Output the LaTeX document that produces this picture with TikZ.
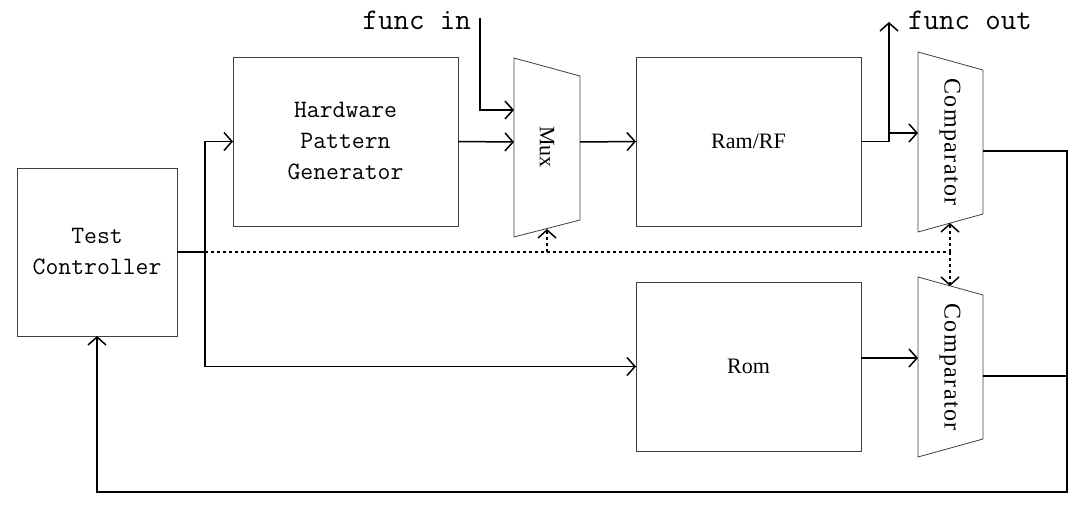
\documentclass[tikz,border=0pt]{standalone}
\usepackage{fontspec}
\newfontfamily\serifp{Liberation Serif}
\usetikzlibrary{arrows.meta}
\begin{document}
\begin{tikzpicture}[x=1pt,y=-1pt,
  box/.style={draw=black!75, line width=0.8pt, minimum width=225pt, minimum height=169pt, inner sep=0pt, outer sep=0pt},
  shp/.style={draw=black!75, line width=0.8pt},
  conn/.style={line width=1.5pt},
  arr/.style={conn, -{Straight Barb[length=8pt,width=18pt]}},
  dotl/.style={conn, dash pattern=on 3pt off 3pt},
  darr/.style={dotl, -{Straight Barb[length=8pt,width=18pt]}},
  mono/.style={font=\ttfamily\fontsize{25}{31}\selectfont, align=center},
  bigmono/.style={font=\ttfamily\fontsize{30}{34}\selectfont, inner sep=0pt},
  lbl/.style={font=\serifp\fontsize{22}{26}\selectfont}]
\useasboundingbox (0,0) rectangle (1085,514);

% boxes
\node[box, minimum width=160pt, minimum height=168pt, mono] (tc) at (97,252) {Test\\Controller};
\node[box, mono] (hpg) at (345.5,141.5) {Hardware\\Pattern\\Generator};
\node[box, lbl] (ram) at (748.5,141.5) {Ram/RF};
\node[box, lbl] (rom) at (748.5,366.5) {Rom};

% mux
\coordinate (m1) at (514,58); \coordinate (m2) at (580,76);
\coordinate (m3) at (580,220); \coordinate (m4) at (514,237);
\draw[shp] (m1) -- (m2) -- (m3) -- (m4) -- cycle;
\node[lbl, rotate=-90] (muxl) at (547,147) {Mux};
% comparator 1
\coordinate (a1) at (918,52); \coordinate (a2) at (983,70);
\coordinate (a3) at (983,214); \coordinate (a4) at (918,232);
\draw[shp] (a1) -- (a2) -- (a3) -- (a4) -- cycle;
\node[lbl, font=\serifp\fontsize{24}{28}\selectfont, rotate=-90] (c1l) at (950,142) {\addfontfeature{LetterSpace=6}Comparator};
% comparator 2
\coordinate (b1) at (918,277); \coordinate (b2) at (983,295);
\coordinate (b3) at (983,439); \coordinate (b4) at (918,457);
\draw[shp] (b1) -- (b2) -- (b3) -- (b4) -- cycle;
\node[lbl, font=\serifp\fontsize{24}{28}\selectfont, rotate=-90] (c2l) at (950,367) {\addfontfeature{LetterSpace=6}Comparator};

% texts
\node[bigmono, anchor=base east] (fin) at (471,30) {func in};
\node[bigmono, anchor=base west] (fout) at (908,29) {func out};

% coordinates
\coordinate (j) at (205,252);
\coordinate (dm) at (547,252);
\coordinate (dj) at (950,252);
\coordinate (muxb) at (547,229);
\coordinate (c1b) at (950,223);
\coordinate (c2t) at (950,286);
\coordinate (finl) at (480,18);
\coordinate (muxin1) at (514,110);
\coordinate (muxin2) at (514,142);
\coordinate (muxout) at (580,142);
\coordinate (fo) at (889,22);
\coordinate (fs) at (889,133);
\coordinate (c1in) at (918,133);
\coordinate (c1out) at (983,151);
\coordinate (c2in) at (918,358);
\coordinate (romout) at (861,358);
\coordinate (c2out) at (983,376);
\coordinate (rr) at (1067,151);
\coordinate (rb) at (1067,492);
\coordinate (lb) at (97,492);
\coordinate (r2) at (1067,376);

% connectors
\draw[conn] (tc.east) -- (j);
\draw[arr] (j) |- (hpg.west);
\draw[arr] (j) |- (rom.west);
\draw[dotl] (j) -- (dj);
\draw[darr] (dm) -- (muxb);
\draw[darr] (dj) -- (c1b);
\draw[darr] (dj) -- (c2t);
\draw[arr] (finl) |- (muxin1);
\draw[arr] (hpg.east) -- (muxin2);
\draw[arr] (muxout) -- (ram.west);
\draw[arr] (ram.east) -| (fo);
\draw[arr] (fs) -- (c1in);
\draw[arr] (romout) -- (c2in);
\draw[arr] (c1out) -- (rr) -- (rb) -- (lb) -- (tc.south);
\draw[conn] (c2out) -- (r2);
\end{tikzpicture}
\end{document}
